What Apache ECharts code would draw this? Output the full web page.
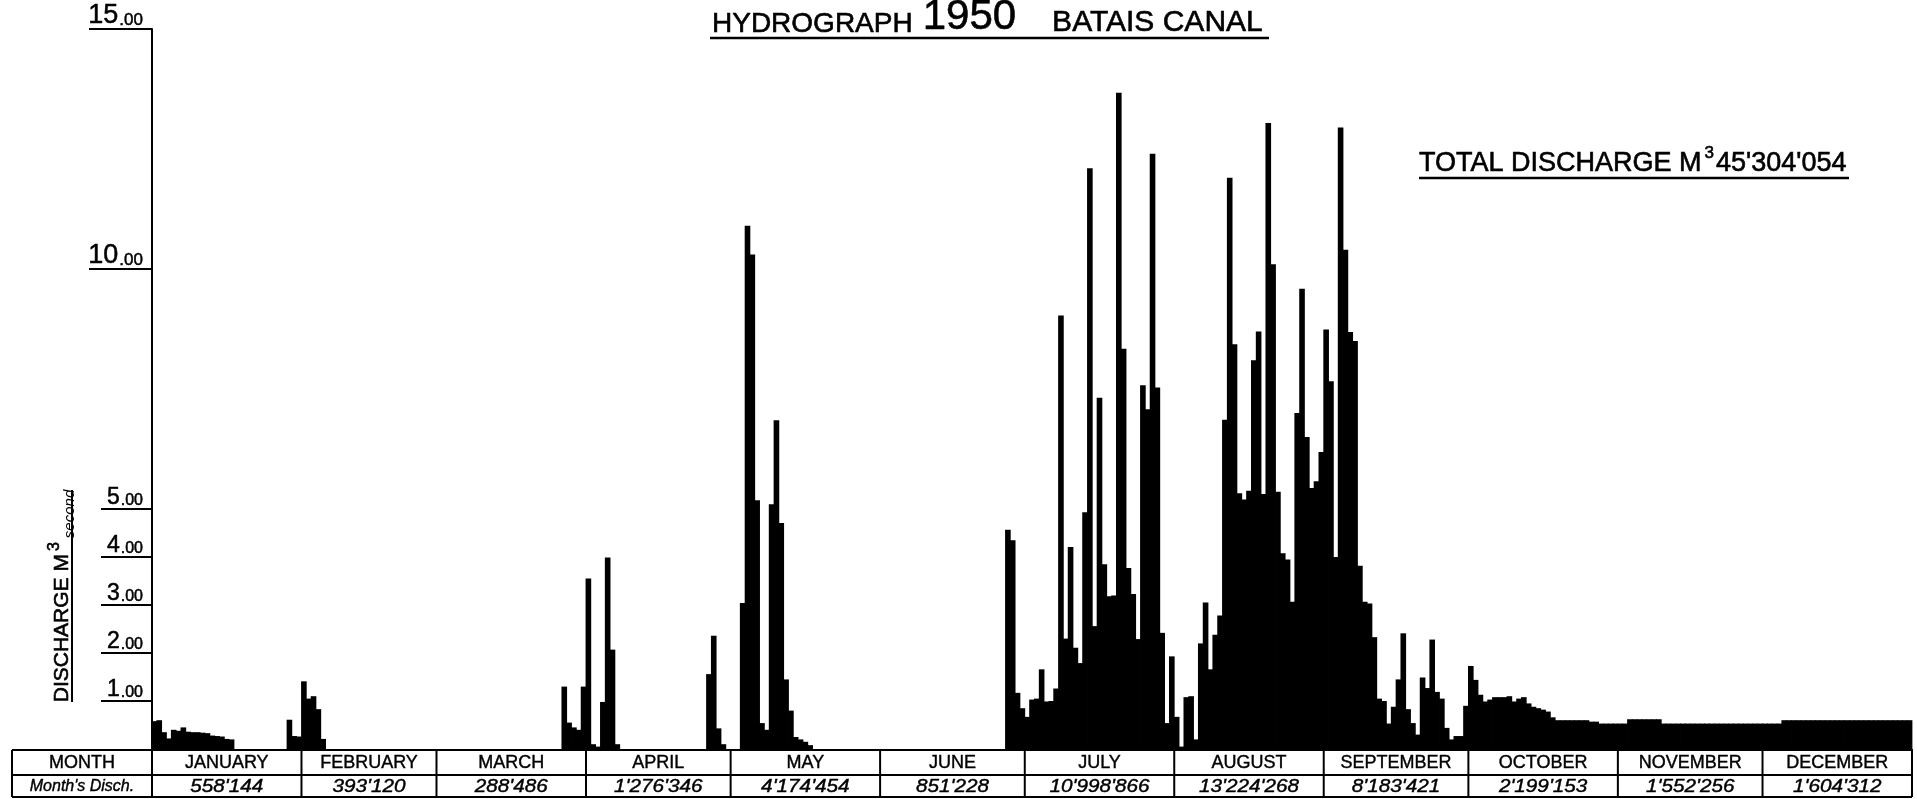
<!DOCTYPE html>
<html>
<head>
<meta charset="utf-8">
<title>Hydrograph 1950 Batais Canal</title>
<script src="https://cdn.jsdelivr.net/npm/echarts@6/dist/echarts.min.js"></script>
<style>
html, body { margin: 0; padding: 0; background: #fff; }
#chartBox { width: 1917px; height: 799px; }
</style>
</head>
<body>
<div id="chartBox"></div>
<script>
const jan = [0.58, 0.6, 0.35, 0.22, 0.4, 0.38, 0.45, 0.36, 0.35, 0.35, 0.34, 0.33, 0.28, 0.27, 0.26, 0.21,
  0.2, 0, 0, 0, 0, 0, 0, 0, 0, 0, 0, 0, 0.61, 0.27, 0.26]
const feb = [1.41, 1.05, 1.1, 0.83, 0.21, 0, 0, 0, 0, 0, 0, 0, 0, 0, 0, 0, 0, 0, 0, 0, 0, 0, 0, 0, 0, 0, 0, 0]
const mar = [0, 0, 0, 0, 0, 0, 0, 0, 0, 0, 0, 0, 0, 0, 0, 0, 0, 0, 0, 0, 0, 0, 0, 0, 0, 0,
  1.3, 0.55, 0.45, 0.4, 1.3]
const apr = [3.55, 0.1, 0.05, 0.98, 3.99, 2.07, 0.1, 0, 0, 0, 0, 0, 0, 0, 0, 0, 0, 0, 0, 0, 0, 0, 0, 0, 0,
  1.56, 2.36, 0.43, 0.1, 0]
const may = [0, 0, 3.04, 10.9, 10.3, 5.18, 0.54, 0.4, 5.1, 6.85, 4.71, 1.45, 0.8, 0.25, 0.2, 0.15, 0.08,
  0, 0, 0, 0, 0, 0, 0, 0, 0, 0, 0, 0, 0, 0]
const jun = [0, 0, 0, 0, 0, 0, 0, 0, 0, 0, 0, 0, 0, 0, 0, 0, 0, 0, 0, 0, 0, 0, 0, 0, 0, 0,
  4.57, 4.35, 1.17, 0.85]
const jul = [0.67, 1.03, 1.05, 1.66, 0.99, 1.0, 1.26, 9.03, 2.3, 4.21, 2.11, 1.79, 4.93, 12.1, 2.56, 7.32,
  3.85, 3.18, 3.2, 13.67, 8.34, 3.77, 3.23, 2.29, 7.58, 7.08, 12.4, 7.53, 2.42, 0.54, 1.93]
const aug = [0.67, 0.05, 1.08, 1.1, 0.2, 2.2, 3.05, 1.66, 2.38, 2.78, 6.86, 11.9, 8.43, 5.33, 5.2, 5.38,
  8.1, 8.7, 5.31, 13.04, 10.1, 5.36, 4.08, 3.95, 3.07, 7.0, 9.59, 6.5, 5.44, 5.58, 6.19]
const sep = [8.74, 7.66, 4.0, 12.95, 10.4, 8.69, 8.5, 3.82, 3.07, 3.03, 2.33, 1.05, 1.0, 0.53, 0.88, 1.45,
  2.41, 0.83, 0.54, 0.3, 1.49, 1.27, 2.28, 1.19, 1.05, 0.44, 0.2, 0.27, 0.27, 0.9]
const oct = [1.73, 1.44, 1.13, 0.99, 1.03, 1.08, 1.08, 1.08, 1.1, 0.99, 1.05, 1.08, 0.95, 0.88, 0.85, 0.82,
  0.78, 0.66, 0.6, 0.6, 0.6, 0.6, 0.6, 0.6, 0.6, 0.57, 0.57, 0.53, 0.53, 0.53, 0.53]
const nov = [0.53, 0.53, 0.62, 0.62, 0.62, 0.62, 0.62, 0.62, 0.62, 0.53, 0.53, 0.53, 0.53, 0.53, 0.53,
  0.53, 0.53, 0.53, 0.53, 0.53, 0.53, 0.53, 0.53, 0.53, 0.53, 0.53, 0.53, 0.53, 0.53, 0.53]
const dec = [0.53, 0.53, 0.53, 0.53, 0.6, 0.6, 0.6, 0.6, 0.6, 0.6, 0.6, 0.6, 0.6, 0.6, 0.6, 0.6, 0.6, 0.6,
  0.6, 0.6, 0.6, 0.6, 0.6, 0.6, 0.6, 0.6, 0.6, 0.6, 0.6, 0.6, 0.6]

const months = ['JANUARY', 'FEBRUARY', 'MARCH', 'APRIL', 'MAY', 'JUNE', 'JULY', 'AUGUST', 'SEPTEMBER',
  'OCTOBER', 'NOVEMBER', 'DECEMBER']
const monthDisch = ["558'144", "393'120", "288'486", "1'276'346", "4'174'454", "851'228", "10'998'866",
  "13'224'268", "8'183'421", "2'199'153", "1'552'256", "1'604'312"]
const yBigTicks = [10, 15]
const ySmallTicks = [1, 2, 3, 4, 5]

const FONT = '"Liberation Sans", Arial, sans-serif'
const monthData = [jan, feb, mar, apr, may, jun, jul, aug, sep, oct, nov, dec]
const flow = [].concat(...monthData)
const dayLabels = []
monthData.forEach((m, mi) => m.forEach((v, di) => dayLabels.push(months[mi].slice(0, 3) + ' ' + (di + 1))))

// a thin outline makes the text look as heavy as the printed lettering
const ink = { textBorderColor: '#000', textBorderWidth: 0.5 }

function yAxisCfg (ticks, tickLen, big, showLine) {
  return {
    type: 'value',
    min: 0,
    max: 15,
    interval: 1,
    position: 'left',
    axisLine: { show: showLine, lineStyle: { color: '#000', width: 2 } },
    axisTick: { show: true, length: tickLen, customValues: ticks, lineStyle: { color: '#000', width: 2 } },
    axisLabel: {
      customValues: ticks,
      margin: 9,
      verticalAlign: 'bottom',
      color: '#000',
      fontFamily: FONT,
      formatter: v => '{a|' + v + '}{b|.00}',
      rich: {
        a: Object.assign({ fontSize: big ? 27 : 23, fontFamily: FONT, color: '#000', verticalAlign: 'bottom', lineHeight: 26 }, ink),
        b: Object.assign({ fontSize: big ? 17 : 16, fontFamily: FONT, color: '#000', verticalAlign: 'bottom', lineHeight: 23, padding: [0, 0, 0, 1] }, ink)
      }
    },
    splitLine: { show: false }
  }
}

// one filled block per day, a hair wider than its band so neighbours join without seams
function dayBlock (params, api) {
  const top = api.coord([api.value(0), api.value(1)])
  const size = api.size([1, api.value(1)])
  return {
    type: 'rect',
    shape: { x: top[0] - size[0] / 2 - 0.4, y: top[1], width: size[0] + 0.8, height: size[1] },
    style: { fill: '#000' }
  }
}

const option = {
  animation: false,
  backgroundColor: '#fff',
  grid: { left: 152, right: 5, top: 29, bottom: 50 },
  xAxis: { type: 'category', data: dayLabels, show: false },
  yAxis: [yAxisCfg(yBigTicks, 63, true, true), yAxisCfg(ySmallTicks, 51, false, false)],
  series: [{
    type: 'custom',
    data: flow.map((v, i) => [i, v]),
    encode: { x: 0, y: 1 },
    silent: true,
    renderItem: dayBlock
  }]
}

const chart = echarts.init(document.getElementById('chartBox'))
chart.setOption(option)

// table under the plot, columns taken from the category axis
const cx = i => chart.convertToPixel({ xAxisIndex: 0 }, i)
const half = (cx(1) - cx(0)) / 2
const edges = [cx(0) - half]
let acc = 0
monthData.forEach(m => { acc += m.length; edges.push(cx(acc - 1) + half) })
const y0 = chart.convertToPixel({ yAxisIndex: 0 }, 0)
const rowTop = y0 + 1
const rowMid = y0 + 26
const rowBot = y0 + 48
const tableLeft = 12

const g = []
const line = (x1, y1, x2, y2, w) => g.push({
  type: 'line', silent: true, shape: { x1, y1, x2, y2 }, style: { stroke: '#000', lineWidth: w || 2 }
})
const text = (x, y, s, size, italic, sx) => g.push({
  type: 'text', silent: true, x, y, scaleX: sx || 1,
  style: {
    text: s, fill: '#000', stroke: '#000', lineWidth: 0.4, fontSize: size, fontFamily: FONT,
    fontStyle: italic ? 'italic' : 'normal', align: 'center', verticalAlign: 'middle'
  }
})

line(tableLeft, rowTop, edges[12], rowTop)
line(tableLeft, rowMid, edges[12], rowMid)
line(tableLeft, rowBot, edges[12], rowBot)
line(tableLeft, rowTop, tableLeft, rowBot)
edges.forEach(x => line(x, y0, x, rowBot))
text((tableLeft + edges[0]) / 2, (rowTop + rowMid) / 2 + 1, 'MONTH', 18)
text((tableLeft + edges[0]) / 2, (rowMid + rowBot) / 2 + 1, "Month's Disch.", 16, true)
months.forEach((m, i) => {
  const mx = (edges[i] + edges[i + 1]) / 2
  text(mx, (rowTop + rowMid) / 2 + 1, m, 18)
  text(mx, (rowMid + rowBot) / 2 + 1, monthDisch[i], 18, true, 1.15)
})

// title
const titleInk = { stroke: '#000', lineWidth: 0.6 }
g.push({
  type: 'text', silent: true, x: 712, y: 38,
  style: {
    text: '{t|HYDROGRAPH}{n|1950}{u|BATAIS CANAL}',
    fill: '#000',
    verticalAlign: 'bottom',
    rich: {
      t: Object.assign({ fontSize: 28, fontFamily: FONT, verticalAlign: 'bottom', lineHeight: 46 }, titleInk),
      n: Object.assign({ fontSize: 42, fontFamily: FONT, verticalAlign: 'bottom', lineHeight: 46, padding: [0, 36, 0, 10] }, titleInk),
      u: Object.assign({ fontSize: 30, fontFamily: FONT, verticalAlign: 'bottom', lineHeight: 46 }, titleInk)
    }
  }
})
line(710, 38, 1269, 38, 2.5)

// total discharge note
g.push({
  type: 'text', silent: true, x: 1419, y: 177,
  style: {
    text: "{a|TOTAL DISCHARGE M}{s|3}{a|45'304'054}",
    fill: '#000',
    verticalAlign: 'bottom',
    rich: {
      a: Object.assign({ fontSize: 27, fontFamily: FONT, verticalAlign: 'bottom', lineHeight: 32 }, titleInk),
      s: Object.assign({ fontSize: 17, fontFamily: FONT, verticalAlign: 'top', lineHeight: 18, padding: [0, 2, 0, 3] }, titleInk)
    }
  }
})
line(1419, 178, 1849, 178, 2.5)

// y axis name
g.push({
  type: 'text', silent: true, x: 62, y: 596, rotation: Math.PI / 2,
  style: {
    text: '{a|DISCHARGE M}{s|3}{i|second}',
    fill: '#000',
    align: 'center',
    verticalAlign: 'middle',
    rich: {
      a: Object.assign({ fontSize: 21, fontFamily: FONT, verticalAlign: 'middle', lineHeight: 30 }, titleInk),
      s: Object.assign({ fontSize: 16, fontFamily: FONT, verticalAlign: 'top', lineHeight: 16, padding: [0, 4, 0, 3] }, titleInk),
      i: { fontSize: 15, fontFamily: FONT, fontStyle: 'italic', verticalAlign: 'bottom', lineHeight: 14 }
    }
  }
})
line(72, 490, 72, 702)

chart.setOption({ graphic: g })
</script>
</body>
</html>
